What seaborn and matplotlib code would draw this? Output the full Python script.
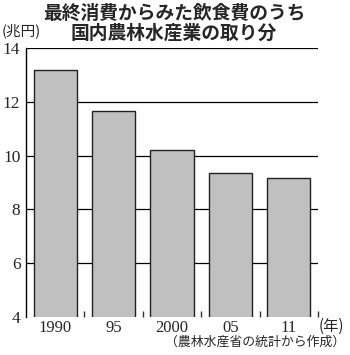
import matplotlib
matplotlib.use("Agg")
import matplotlib.pyplot as plt
import seaborn as sns
import pandas as pd

years = ["1990", "95", "2000", "05", "11"]
values = [13.2, 11.65, 10.2, 9.35, 9.15]
yticks = [4, 6, 8, 10, 12, 14]

sns.set_style("white")
plt.rcParams['font.family'] = ['Noto Sans CJK JP', 'DejaVu Sans']

df = pd.DataFrame({"year": years, "value": values})

fig = plt.figure(figsize=(3.5, 3.55), dpi=100)
ax = fig.add_axes([26/350, 1 - 317/355, (318 - 26)/350, (317 - 48)/355])

for y in yticks[1:]:
    ax.axhline(y, color="black", lw=0.9, zorder=0)

sns.barplot(data=df, x="year", y="value", ax=ax, color="#c0c0c0",
            edgecolor="#222222", linewidth=1.0, width=0.74, saturation=1, zorder=2)

ax.set_ylim(4, 14)
ax.set_xlim(-0.5, 4.5)
ax.set_yticks(yticks)
ax.set_yticklabels([str(v) for v in yticks], fontfamily="Liberation Serif", fontsize=12.5)
ax.set_xticks(range(len(years)))
ax.set_xticklabels(years, fontfamily="Liberation Serif", fontsize=12)
ax.set_xticks([0.5, 1.5, 2.5, 3.5, 4.5], minor=True)
ax.tick_params(axis="x", which="major", length=0, pad=2)
ax.tick_params(axis="x", which="minor", direction="in", length=4, width=1, color="#333333", bottom=True)
ax.tick_params(axis="y", length=0, pad=4)
ax.set_xlabel("")
ax.set_ylabel("")
for s in ["top", "right", "bottom"]:
    ax.spines[s].set_visible(False)
ax.spines["left"].set_color("black")
ax.spines["left"].set_linewidth(1.0)

fig.text(0.497, 1 - 13/355, "最終消費からみた飲食費のうち", ha="center", va="center",
         fontsize=13.5, fontweight="bold")
fig.text(0.497, 1 - 33/355, "国内農林水産業の取り分", ha="center", va="center",
         fontsize=13.5, fontweight="bold")
fig.text(2/350, 1 - 31/355, "(兆円)", ha="left", va="center", fontsize=10.5)
fig.text(331/350, 1 - 326/355, "(年)", ha="center", va="center", fontsize=11)
fig.text(345/350, 1 - 342/355, "（農林水産省の統計から作成）", ha="right", va="center", fontsize=9.3)

fig.savefig("out.png", dpi=100)
